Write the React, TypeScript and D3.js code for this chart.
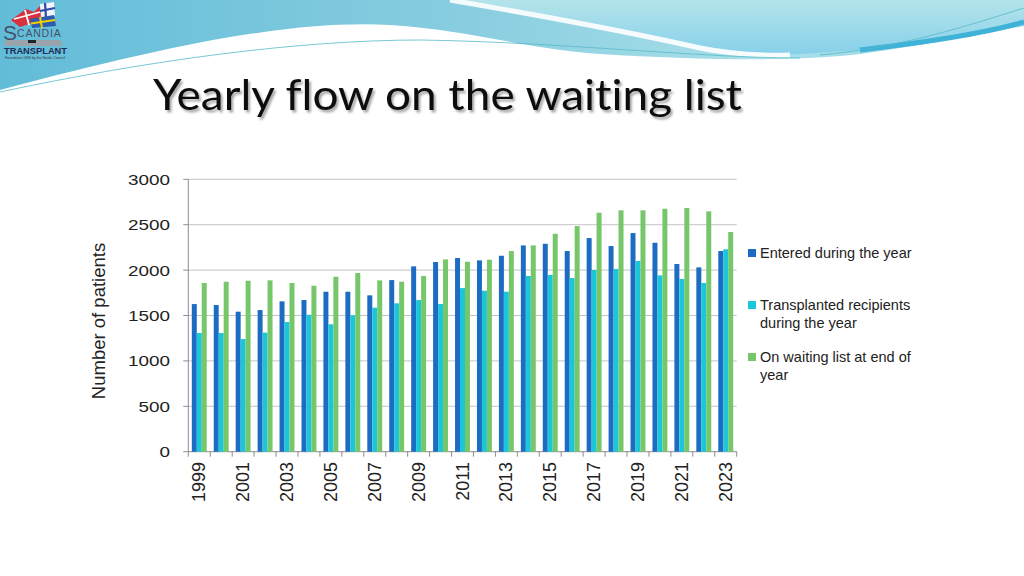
import React from "react";
import * as d3 from "d3";

const years = d3.range(1999, 2024).map(String);
const entered = [1626, 1615, 1542, 1560, 1656, 1670, 1762, 1762, 1722, 1890, 2041, 2089, 2133, 2107, 2158, 2272, 2290, 2210, 2353, 2265, 2408, 2301, 2067, 2030, 2210];
const transplanted = [1307, 1307, 1241, 1311, 1428, 1508, 1403, 1502, 1586, 1634, 1670, 1626, 1802, 1773, 1762, 1935, 1946, 1912, 2001, 2012, 2100, 1942, 1902, 1858, 2229];
const waiting = [1858, 1872, 1883, 1887, 1858, 1828, 1927, 1968, 1887, 1872, 1935, 2118, 2092, 2114, 2210, 2272, 2400, 2485, 2632, 2658, 2658, 2676, 2684, 2647, 2419];
const yTicks = [0, 500, 1000, 1500, 2000, 2500, 3000];
const seriesNames = ["Entered during the year", "Transplanted recipients during the year", "On waiting list at end of year"];
const seriesColors = ["#1c6cc4", "#1cc6d9", "#76c66a"];

export default function App() {
  const W = 1024, H = 576;
  const x0 = 188.3, x1 = 736.7, yTop = 179.3, yBot = 451.7;
  const x = d3.scaleBand<string>().domain(years).range([x0, x1]).paddingInner(0.32).paddingOuter(0.16);
  const sub = d3.scaleBand<number>().domain([0, 1, 2]).range([0, x.bandwidth()]);
  const y = d3.scaleLinear().domain([0, 3000]).range([yBot, yTop]);
  const step = x.step();
  const data = [entered, transplanted, waiting];
  const font = "'Liberation Sans', Arial, sans-serif";
  const zw = "\u200C";

  const legendItems = [
    { lines: ["Entered during the year"], y: 253 },
    { lines: ["Transplanted recipients", "during the year"], y: 305 },
    { lines: ["On waiting list at end of", "year"], y: 357 },
  ];

  return (
    <svg width={W} height={H} style={{ position: "absolute", left: 0, top: 0, background: "#fff" }}>
      <defs>
        <linearGradient id="hdr" x1="0" y1="0" x2="1" y2="0">
          <stop offset="0" stopColor="#62bcd8" />
          <stop offset="0.45" stopColor="#88cde0" />
          <stop offset="0.75" stopColor="#a9e0e8" />
          <stop offset="1" stopColor="#8fd2ea" />
        </linearGradient>
        <linearGradient id="hdr2" x1="0" y1="0" x2="0" y2="1">
          <stop offset="0" stopColor="#b4e4ea" />
          <stop offset="1" stopColor="#86d0ea" />
        </linearGradient>
        <filter id="shadow" x="-5%" y="-20%" width="110%" height="150%">
          <feDropShadow dx="2" dy="2.5" stdDeviation="1.2" floodColor="#000" floodOpacity="0.35" />
        </filter>
      </defs>

      {/* header waves */}
      <path d="M0,0 L1024,0 L1024,26 C980,34 920,46 860,54 C790,62 700,60 600,54 C520,48 470,30 390,25 C290,20 170,45 0,90 Z" fill="url(#hdr)" />
      <path d="M460,0 L1024,0 L1024,22 C960,36 900,50 780,55 C700,50 620,30 560,18 C520,10 490,4 460,0 Z" fill="url(#hdr2)" />
      <path d="M450,0 C520,12 620,30 700,48 C730,54 760,56 790,55" fill="none" stroke="#fff" strokeWidth={5} opacity={0.9} />
      <path d="M860,50 C930,42 990,32 1024,22" fill="none" stroke="#3fb2d8" strokeWidth={5} />
      <path d="M0,92 C150,60 300,40 420,40 C560,42 700,58 800,58" fill="none" stroke="#58b9c9" strokeWidth={0.8} />
      <path d="M820,55 C900,48 970,25 1024,8" fill="none" stroke="#58b9c9" strokeWidth={0.8} />

      {/* logo */}
      <g>
        <path d="M11,20 L26,9 L34,12 L40,6 L42,20 L20,27 Z" fill="#d8303c" />
        <path d="M14,19 L40,12 M25,10 L29,25" stroke="#fff" strokeWidth={1.8} />
        <path d="M40,4 L54,2 L55,16 L41,19 Z" fill="#f2f4fa" />
        <path d="M40,11 L55,8 M45,3 L46,18" stroke="#2a4aa8" strokeWidth={2.2} />
        <path d="M30,19 L54,15 L56,26 L32,28 Z" fill="#2d5cae" />
        <path d="M31,23.5 L55,20 M40,17 L42,28" stroke="#f4d000" strokeWidth={2} />
        <text x={3} y={40} fontFamily={font} fontSize={21} fill="#44506a">S</text>
        <text x={17} y={37} fontFamily={font} fontSize={10.5} fill="#44506a" letterSpacing={0.8}>CANDIA</text>
        <rect x={4} y={40} width={58} height={6} rx={3} fill="#9aa3ac" />
        <rect x={28} y={40} width={8} height={3} fill="#222" />
        <text x={4} y={54} fontFamily={font} fontSize={9} fill="#1d2b55" fontWeight="bold" textLength={63} lengthAdjust="spacingAndGlyphs">TRANSPLANT</text>
        <text x={5} y={59} fontFamily={font} fontSize={3} fill="#333" textLength={60} lengthAdjust="spacingAndGlyphs">Foundation 1969 by the Nordic Council</text>
      </g>

      {/* title */}
      <text x={153} y={110} fontFamily="Lato, 'Open Sans', sans-serif" fontSize={42} fill="#111"
        style={{ fontVariantLigatures: "none", fontFeatureSettings: '"liga" 0, "clig" 0, "dlig" 0' }}
        textLength={589} lengthAdjust="spacingAndGlyphs" filter="url(#shadow)">{`Yearly f${zw}low on the wait${zw}ing list`}</text>

      {/* gridlines */}
      {yTicks.map((t) => (
        <g key={t}>
          <line x1={x0} x2={x1} y1={y(t)} y2={y(t)} stroke={t === 0 ? "#8c8c8c" : "#c4c4c4"} strokeWidth={1} />
          <line x1={x0 - 5} x2={x0} y1={y(t)} y2={y(t)} stroke="#8c8c8c" />
          <text x={170} y={y(t)} textAnchor="end" dominantBaseline="central" fontFamily={font} fontSize={15.5}
            textLength={String(t).length * 10.5} lengthAdjust="spacingAndGlyphs" fill="#222">{t}</text>
        </g>
      ))}
      <line x1={x0} x2={x0} y1={yTop} y2={yBot} stroke="#8c8c8c" />

      {/* bars */}
      {data.map((vals, si) =>
        vals.map((v, i) => (
          <rect key={si + "-" + i} x={(x(years[i]) as number) + (sub(si) as number)} width={sub.bandwidth()}
            y={y(v)} height={yBot - y(v)} fill={seriesColors[si]} />
        ))
      )}

      {/* x ticks */}
      {d3.range(years.length + 1).map((i) => (
        <line key={i} x1={x0 + i * step} x2={x0 + i * step} y1={yBot} y2={yBot + 5} stroke="#8c8c8c" />
      ))}
      {years.map((yr, i) =>
        i % 2 === 0 ? (
          <text key={yr} transform={`translate(${(x(yr) as number) + x.bandwidth() / 2},462) rotate(-90)`}
            textAnchor="end" dominantBaseline="central" fontFamily={font} fontSize={18} fill="#222">{yr}</text>
        ) : null
      )}

      {/* y axis title */}
      <text transform="translate(98,321) rotate(-90)" textAnchor="middle" dominantBaseline="central"
        fontFamily={font} fontSize={18.5} fill="#222">Number of patients</text>

      {/* legend */}
      {legendItems.map((it, i) => (
        <g key={i}>
          <rect x={748} y={it.y - 4} width={8} height={8} fill={seriesColors[i]} />
          {it.lines.map((ln, j) => (
            <text key={j} x={760} y={it.y + j * 18} dominantBaseline="central" fontFamily={font} fontSize={14.5} fill="#222">{ln}</text>
          ))}
        </g>
      ))}
    </svg>
  );
}
